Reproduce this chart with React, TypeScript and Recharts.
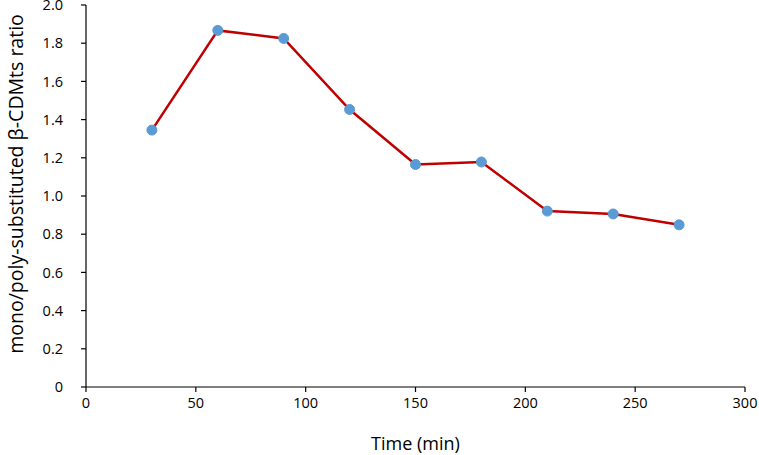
import React from "react";
import { LineChart, Line, XAxis, YAxis, Label } from "recharts";

const times = [30, 60, 90, 120, 150, 180, 210, 240, 270];
const ratios = [1.345, 1.867, 1.825, 1.453, 1.165, 1.178, 0.921, 0.906, 0.849];
const xTicks = [0, 50, 100, 150, 200, 250, 300];
const yTicks = [0, 0.2, 0.4, 0.6, 0.8, 1.0, 1.2, 1.4, 1.6, 1.8, 2.0];

const data = times.map((t, i) => ({ time: t, ratio: ratios[i] }));

const FONT = "'Open Sans', sans-serif";

const YTitle = (props: any) => {
  const vb = props.viewBox || {};
  const cx = vb.x + 15;
  const cy = vb.y + vb.height / 2 - 12;
  return (
    <text
      x={cx}
      y={cy}
      transform={`rotate(-90 ${cx} ${cy})`}
      textAnchor="middle"
      dominantBaseline="central"
      fontFamily={FONT}
      fontSize={19.5}
      fill="#000"
    >
      mono/poly-substituted β-CDMts ratio
    </text>
  );
};

export default function App() {
  return (
    <div style={{ position: "absolute", left: 0, top: 0, background: "#fff" }}>
      <LineChart
        width={759}
        height={455}
        data={data}
        margin={{ top: 5, right: 14, bottom: 0, left: 0 }}
      >
        <XAxis
          dataKey="time"
          type="number"
          domain={[0, 300]}
          ticks={xTicks}
          interval={0}
          height={68}
          tickSize={5}
          tickMargin={6}
          stroke="#000"
          tick={{ fill: "#000", fontFamily: FONT, fontSize: 14.5 }}
          axisLine={{ stroke: "#000", strokeWidth: 1.2 }}
          tickLine={{ stroke: "#000", strokeWidth: 1.2 }}
        >
          <Label
            value="Time (min)"
            position="insideBottom"
            offset={5}
            style={{ fill: "#000", fontFamily: FONT, fontSize: 18 }}
          />
        </XAxis>
        <YAxis
          type="number"
          domain={[0, 2]}
          ticks={yTicks}
          interval={0}
          width={86}
          tickSize={5}
          tickMargin={18}
          stroke="#000"
          tickFormatter={(v: number) => (v === 0 ? "0" : v.toFixed(1))}
          tick={{ fill: "#000", fontFamily: FONT, fontSize: 14.5 }}
          axisLine={{ stroke: "#000", strokeWidth: 1.2 }}
          tickLine={{ stroke: "#000", strokeWidth: 1.2 }}
        >
          <Label content={<YTitle />} />
        </YAxis>
        <Line
          type="linear"
          dataKey="ratio"
          stroke="#C00000"
          strokeWidth={2.5}
          dot={{ r: 5, fill: "#5B9BD5", stroke: "#5B9BD5", strokeWidth: 1 }}
          activeDot={false}
          isAnimationActive={false}
        />
      </LineChart>
    </div>
  );
}
